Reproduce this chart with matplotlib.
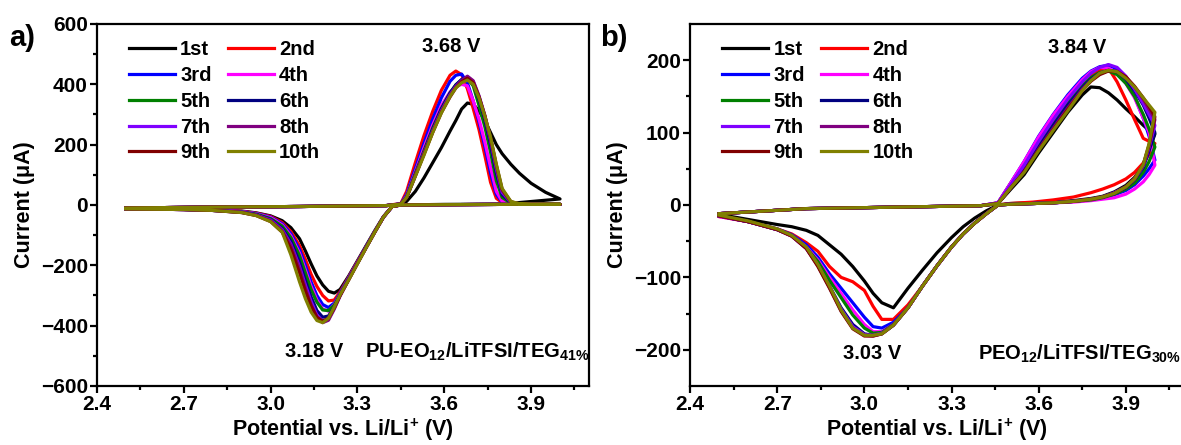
import matplotlib
matplotlib.use("Agg")
import matplotlib.pyplot as plt

plt.rcParams["font.family"] = ["Liberation Sans", "DejaVu Sans"]
plt.rcParams["font.weight"] = "bold"
plt.rcParams["mathtext.fontset"] = "custom"
plt.rcParams["mathtext.rm"] = "Liberation Sans:bold"
plt.rcParams["mathtext.bf"] = "Liberation Sans:bold"
plt.rcParams["mathtext.it"] = "Liberation Sans:bold:italic"

LABELS = ["1st", "2nd", "3rd", "4th", "5th", "6th", "7th", "8th", "9th", "10th"]
COLORS = ["#000000", "#FF0000", "#0000FF", "#FF00FF", "#008000",
          "#000080", "#8000FF", "#800080", "#800000", "#808000"]

# ---------------- panel a: PU-EO12/LiTFSI/TEG41% ----------------
A_FWD_V = [2.50, 2.80, 3.10, 3.40, 3.45, 3.47, 3.50, 3.53, 3.56, 3.59, 3.62, 3.64, 3.66,
           3.68, 3.70, 3.72, 3.74, 3.76, 3.78, 3.80, 3.83, 3.86, 3.90, 3.95, 4.00]
A_FWD_I = [
    [-10, -7, -5, -2, 2, 12, 45, 90, 140, 190, 245, 280, 318, 338, 334, 312, 280, 240, 200, 170, 135, 105, 72, 42, 20],
    [-10, -7, -5, -2, 5, 45, 140, 230, 310, 380, 430, 444, 432, 385, 320, 250, 165, 75, 22, 8, 4, 3, 2, 2, 2],
    [-10, -7, -5, -2, 4, 35, 120, 205, 285, 355, 410, 430, 434, 405, 345, 275, 195, 105, 35, 10, 4, 3, 2, 2, 2],
    [-10, -7, -5, -2, 3, 30, 110, 190, 265, 330, 375, 392, 400, 395, 345, 285, 210, 125, 45, 12, 4, 3, 2, 2, 2],
    [-10, -7, -5, -2, 3, 28, 105, 180, 255, 320, 372, 398, 415, 420, 395, 330, 260, 175, 80, 25, 6, 3, 2, 2, 2],
    [-10, -7, -5, -2, 3, 26, 100, 175, 250, 318, 370, 398, 416, 424, 405, 350, 285, 200, 105, 35, 8, 3, 2, 2, 2],
    [-10, -7, -5, -2, 3, 25, 98, 172, 245, 312, 365, 393, 412, 421, 410, 360, 295, 215, 120, 42, 9, 3, 2, 2, 2],
    [-10, -7, -5, -2, 3, 25, 97, 170, 243, 310, 363, 392, 413, 427, 412, 362, 298, 220, 128, 48, 10, 3, 2, 2, 2],
    [-10, -7, -5, -2, 3, 25, 96, 168, 240, 306, 358, 388, 408, 420, 405, 358, 296, 222, 132, 52, 11, 3, 2, 2, 2],
    [-10, -7, -5, -2, 3, 25, 95, 165, 240, 305, 360, 388, 405, 414, 400, 355, 295, 225, 135, 55, 12, 4, 2, 2, 2],
]
A_REV_V = [4.00, 3.80, 3.60, 3.45, 3.42, 3.39, 3.36, 3.33, 3.30, 3.27, 3.24, 3.22, 3.20, 3.18,
           3.16, 3.14, 3.12, 3.10, 3.07, 3.04, 3.00, 2.95, 2.90, 2.80, 2.70, 2.60, 2.50]
A_REV_I = [
    [20, 3, 2, 0, -5, -38, -85, -135, -185, -235, -280, -292, -286, -265, -235, -195, -152, -112, -75, -52, -36, -26, -20, -16, -14, -13, -12],
    [2, 2, 1, 0, -5, -40, -88, -138, -188, -238, -288, -315, -318, -300, -270, -230, -180, -135, -88, -58, -38, -27, -21, -17, -15, -14, -13],
    [2, 2, 1, 0, -5, -40, -88, -138, -190, -240, -292, -325, -340, -330, -300, -255, -200, -148, -95, -62, -40, -28, -22, -17, -15, -14, -13],
    [2, 2, 1, 0, -5, -40, -88, -140, -190, -242, -295, -330, -352, -345, -315, -270, -215, -160, -102, -66, -42, -29, -22, -17, -15, -14, -13],
    [2, 2, 1, 0, -5, -40, -88, -140, -192, -243, -296, -332, -350, -348, -322, -280, -225, -168, -108, -70, -45, -30, -23, -18, -15, -14, -13],
    [2, 2, 1, 0, -5, -40, -89, -140, -192, -245, -298, -338, -368, -372, -350, -305, -250, -190, -120, -78, -48, -32, -24, -18, -15, -14, -13],
    [2, 2, 1, 0, -5, -40, -90, -141, -193, -246, -300, -342, -378, -385, -365, -320, -265, -205, -130, -82, -50, -33, -24, -18, -15, -14, -13],
    [2, 2, 1, 0, -5, -40, -90, -141, -194, -247, -302, -345, -382, -390, -372, -330, -275, -212, -135, -85, -52, -34, -25, -18, -15, -14, -13],
    [2, 2, 1, 0, -5, -40, -90, -142, -194, -248, -300, -340, -375, -385, -372, -335, -285, -225, -145, -90, -55, -35, -25, -18, -15, -14, -13],
    [3, 2, 1, 0, -5, -40, -90, -142, -195, -248, -298, -338, -375, -390, -383, -355, -310, -255, -165, -90, -55, -35, -25, -18, -15, -14, -13],
]

# ---------------- panel b: PEO12/LiTFSI/TEG30% ----------------
B_FWD_V = [2.50, 2.80, 3.10, 3.40, 3.46, 3.50, 3.55, 3.60, 3.65, 3.70, 3.75, 3.78, 3.81,
           3.84, 3.87, 3.90, 3.93, 3.96, 3.98, 4.00]
B_FWD_I = [
    [-12, -5, -3, -1, 2, 20, 42, 72, 100, 128, 152, 163, 162, 155, 145, 133, 122, 110, 103, 98],
    [-12, -5, -3, -1, 3, 28, 58, 92, 122, 148, 170, 180, 187, 189, 170, 145, 118, 92, 88, 85],
    [-12, -5, -3, -1, 3, 28, 60, 95, 125, 152, 175, 185, 191, 193, 188, 172, 150, 120, 95, 62],
    [-12, -5, -3, -1, 3, 28, 60, 94, 124, 150, 173, 184, 190, 189, 182, 168, 148, 120, 100, 55],
    [-12, -5, -3, -1, 2, 24, 52, 85, 115, 142, 165, 176, 183, 185, 180, 168, 150, 125, 105, 80],
    [-12, -5, -3, -1, 2, 23, 48, 80, 110, 138, 162, 174, 182, 186, 184, 174, 158, 138, 120, 100],
    [-12, -5, -3, -1, 3, 26, 55, 88, 118, 146, 170, 182, 190, 194, 190, 178, 160, 140, 125, 110],
    [-12, -5, -3, -1, 2, 22, 46, 77, 106, 134, 160, 172, 181, 186, 185, 177, 163, 146, 132, 118],
    [-12, -5, -3, -1, 2, 22, 46, 76, 104, 132, 158, 171, 180, 185, 184, 177, 164, 148, 136, 122],
    [-12, -5, -3, -1, 2, 22, 45, 75, 103, 130, 158, 172, 182, 186, 184, 175, 163, 148, 138, 128],
]
B_REV_V = [4.00, 3.98, 3.96, 3.93, 3.90, 3.86, 3.82, 3.78, 3.72, 3.65, 3.58, 3.50, 3.46,
           3.42, 3.38, 3.34, 3.30, 3.25, 3.20, 3.15, 3.10, 3.06, 3.03, 3.00, 2.96, 2.92,
           2.88, 2.84, 2.80, 2.75, 2.70, 2.60, 2.50]
B_REV_I = [
    [98, 75, 55, 38, 27, 18, 12, 9, 6, 4, 3, 2, 0, -8, -18, -30, -45, -66, -90, -115, -142, -135, -122, -105, -85, -68, -55, -42, -35, -30, -27, -20, -13],
    [85, 70, 58, 45, 36, 28, 22, 17, 11, 7, 4, 2, 0, -12, -25, -40, -58, -84, -112, -138, -158, -158, -140, -118, -106, -100, -85, -64, -52, -40, -33, -23, -16],
    [62, 50, 40, 28, 20, 14, 10, 7, 5, 3, 2, 1, 0, -12, -25, -40, -58, -84, -112, -142, -162, -170, -168, -155, -135, -115, -95, -72, -55, -41, -33, -23, -15],
    [55, 42, 32, 22, 15, 10, 8, 6, 4, 3, 2, 1, 0, -12, -25, -40, -58, -84, -112, -142, -165, -175, -175, -165, -145, -122, -100, -76, -58, -42, -34, -23, -16],
    [80, 60, 45, 30, 22, 15, 10, 7, 5, 3, 2, 1, 0, -12, -25, -40, -58, -84, -112, -142, -165, -176, -177, -170, -152, -128, -104, -78, -59, -42, -34, -23, -15],
    [100, 75, 52, 35, 24, 16, 11, 8, 5, 3, 2, 1, 0, -12, -25, -40, -58, -84, -112, -142, -166, -178, -180, -178, -165, -142, -112, -82, -59, -42, -34, -23, -15],
    [110, 80, 54, 36, 25, 17, 11, 8, 5, 3, 2, 1, 0, -12, -25, -40, -58, -84, -112, -142, -166, -177, -180, -179, -168, -144, -113, -83, -60, -43, -34, -23, -15],
    [118, 82, 55, 36, 25, 16, 11, 8, 5, 3, 2, 1, 0, -12, -25, -40, -58, -84, -112, -142, -166, -178, -181, -180, -170, -146, -114, -84, -60, -43, -34, -23, -15],
    [122, 83, 56, 36, 25, 16, 11, 8, 5, 3, 2, 1, 0, -12, -25, -40, -58, -84, -112, -142, -166, -178, -181, -181, -171, -147, -115, -85, -60, -43, -34, -23, -15],
    [128, 85, 56, 36, 25, 16, 11, 8, 5, 3, 2, 1, 0, -12, -25, -40, -58, -84, -112, -142, -166, -178, -180, -180, -170, -145, -112, -82, -58, -42, -33, -22, -14],
]

X_TICKS = [2.4, 2.7, 3.0, 3.3, 3.6, 3.9]
A_Y_TICKS = [-600, -400, -200, 0, 200, 400, 600]
B_Y_TICKS = [-200, -100, 0, 100, 200]

fig = plt.figure(figsize=(11.81, 4.45), dpi=100)
ax_a = fig.add_axes([0.0821, 0.1326, 0.4166, 0.8135])
ax_b = fig.add_axes([0.5843, 0.1326, 0.4182, 0.8135])


def draw_cycles(ax, fwd_v, fwd_i, rev_v, rev_i):
    lines = []
    for k in range(len(LABELS)):
        v = fwd_v + rev_v
        i = fwd_i[k] + rev_i[k]
        ln, = ax.plot(v, i, color=COLORS[k], lw=2.3, label=LABELS[k], solid_joinstyle="round")
        lines.append(ln)
    return lines


def style_axes(ax, lines, yticks, ylim, yminor):
    ax.set_xlim(2.4, 4.1)
    ax.set_ylim(*ylim)
    ax.set_xticks(X_TICKS)
    ax.set_xticks([2.55, 2.85, 3.15, 3.45, 3.75, 4.05], minor=True)
    ax.set_yticks(yticks)
    ax.set_yticks(yminor, minor=True)
    ax.set_xticklabels([f"{t:.1f}" for t in X_TICKS])
    for s in ax.spines.values():
        s.set_linewidth(1.6)
    ax.tick_params(which="both", direction="out", width=1.6, labelsize=15, top=False, right=False)
    ax.tick_params(which="major", length=5, pad=1.5)
    ax.tick_params(which="minor", length=3)
    ax.set_xlabel("Potential vs. Li/Li$^{+}$ (V)", fontsize=15.5, fontweight="bold", labelpad=2)
    ax.set_ylabel("Current (\u03bcA)", fontsize=15.5, fontweight="bold", labelpad=4)
    # legend reads row by row: 1st 2nd / 3rd 4th / ...
    order = [0, 2, 4, 6, 8, 1, 3, 5, 7, 9]
    leg = ax.legend([lines[k] for k in order], [LABELS[k] for k in order],
                    ncol=2, loc="upper left", bbox_to_anchor=(0.032, 1.0), frameon=False,
                    fontsize=14.5, handlelength=2.3, handletextpad=0.25, columnspacing=0.8,
                    labelspacing=0.34, borderpad=0.3)
    for line in leg.get_lines():
        line.set_linewidth(2.3)


lines_a = draw_cycles(ax_a, A_FWD_V, A_FWD_I, A_REV_V, A_REV_I)
style_axes(ax_a, lines_a, A_Y_TICKS, (-600, 600), [-500, -300, -100, 100, 300, 500])
ax_a.text(3.624, 527, "3.68 V", ha="center", va="center", fontsize=14.5, fontweight="bold")
ax_a.text(3.152, -487, "3.18 V", ha="center", va="center", fontsize=14.5, fontweight="bold")
ax_a.text(3.325, -487, "PU-EO$_{12}$/LiTFSI/TEG$_{41\\%}$", ha="left", va="center",
          fontsize=14.5, fontweight="bold")

lines_b = draw_cycles(ax_b, B_FWD_V, B_FWD_I, B_REV_V, B_REV_I)
style_axes(ax_b, lines_b, B_Y_TICKS, (-250, 250), [-150, -50, 50, 150])
ax_b.text(3.731, 218, "3.84 V", ha="center", va="center", fontsize=14.5, fontweight="bold")
ax_b.text(3.026, -205, "3.03 V", ha="center", va="center", fontsize=14.5, fontweight="bold")
ax_b.text(3.39, -205, "PEO$_{12}$/LiTFSI/TEG$_{\\mathit{30\\%}}$", ha="left", va="center",
          fontsize=14.5, fontweight="bold")

fig.text(0.008, 0.945, "a)", fontsize=21, fontweight="bold", va="top")
fig.text(0.508, 0.945, "b)", fontsize=21, fontweight="bold", va="top")

fig.savefig("out.png", dpi=100, facecolor="white")
